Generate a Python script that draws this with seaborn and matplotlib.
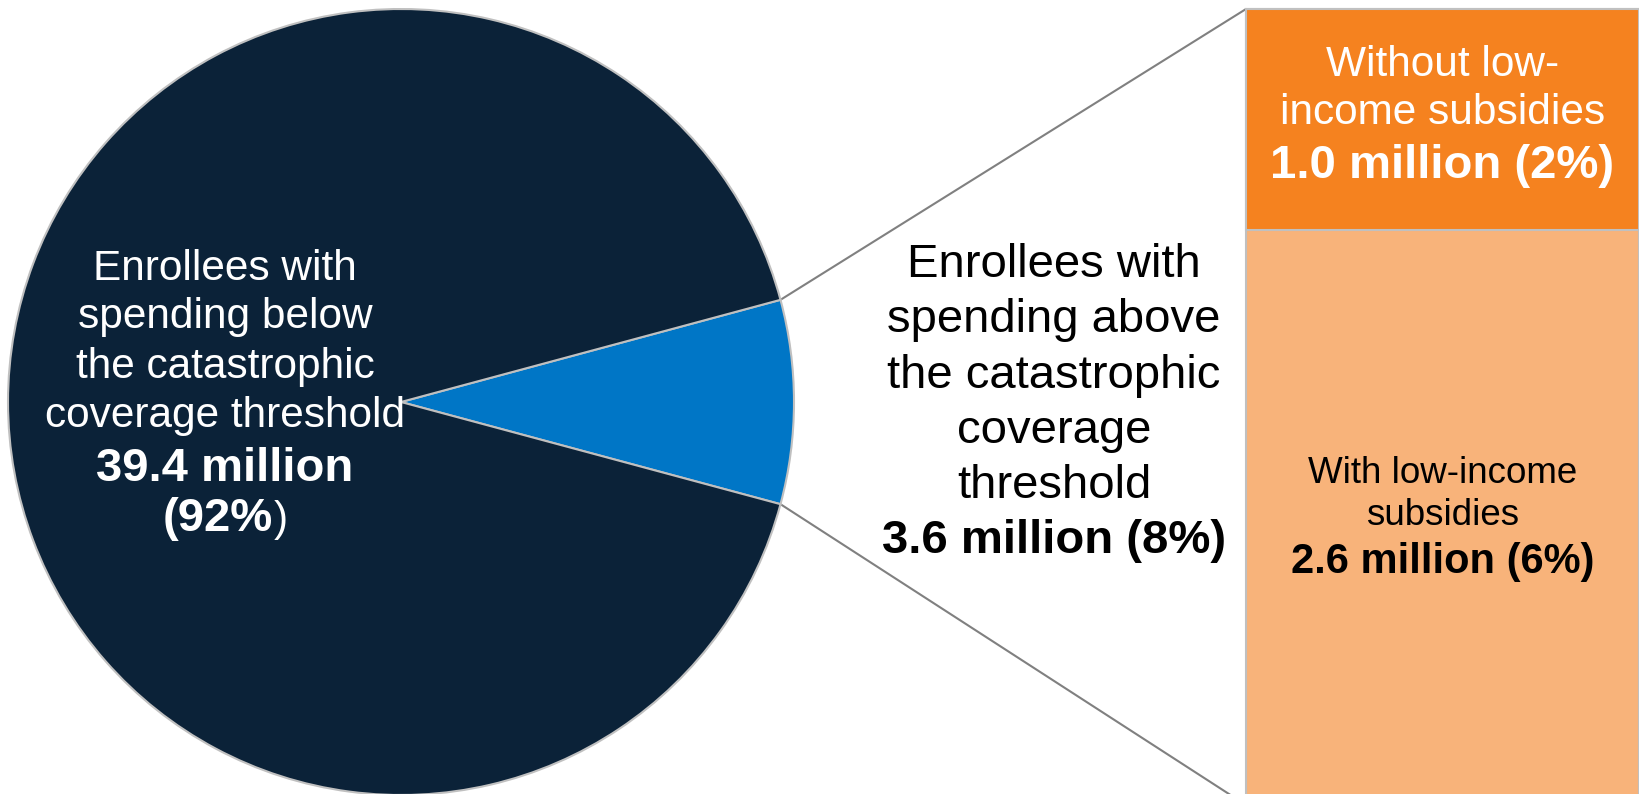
import matplotlib
matplotlib.use("Agg")
import matplotlib.pyplot as plt
import seaborn as sns
import pandas as pd
from matplotlib.patches import ConnectionPatch
import numpy as np

# ---- data ----
pie_labels = ["Above threshold", "Below threshold"]
pie_values = [3.6, 39.4]          # million enrollees
bar_labels = ["Without low-income subsidies", "With low-income subsidies"]
bar_values = [1.0, 2.6]           # million enrollees (split of the 3.6)

below_lines = ["Enrollees with", "spending below", "the catastrophic", "coverage threshold"]
below_value = "39.4 million"
below_pct = "(92%"
above_lines = ["Enrollees with", "spending above", "the catastrophic", "coverage", "threshold"]
above_value = "3.6 million (8%)"
without_lines = ["Without low-", "income subsidies"]
without_value = "1.0 million (2%)"
with_lines = ["With low-income", "subsidies"]
with_value = "2.6 million (6%)"

NAVY = "#0b2238"
BLUE = "#0076c6"
ORANGE = "#f5821f"
LIGHT = "#f8b37a"
EDGE = "#c0c0c0"
CONN = "#808080"

sns.set_theme(style="white")
plt.rcParams["font.family"] = ["Liberation Sans", "DejaVu Sans"]

W, H = 1640, 794
fig = plt.figure(figsize=(W / 100, H / 100), dpi=100)

# ---- stacked bar (seaborn) ----
bl, bt, bb, br = 1246, 9, 805, 1639
bax = fig.add_axes([bl / W, (H - bb) / H, (br - bl) / W, (bb - bt) / H])
bax.set_zorder(1)
total = sum(bar_values)
df_total = pd.DataFrame({"g": ["x"], "v": [total]})
df_top = pd.DataFrame({"g": ["x"], "v": [bar_values[0]]})
sns.barplot(data=df_total, x="g", y="v", color=LIGHT, saturation=1, width=1,
            edgecolor=EDGE, linewidth=1.5, errorbar=None, ax=bax)
sns.barplot(data=df_top, x="g", y="v", color=ORANGE, saturation=1, width=1,
            edgecolor=EDGE, linewidth=1.5, errorbar=None, ax=bax)
bax.set_xlim(-0.5, 0.5)
bax.set_ylim(total, 0)
bax.axis("off")
for p in bax.patches:
    p.set_clip_on(False)

# ---- pie on a full-figure pixel axes ----
ax = fig.add_axes([0, 0, 1, 1])
ax.set_zorder(2)
cx, cy, R = 401, 402, 393
frac = pie_values[0] / sum(pie_values)
wedges, _ = ax.pie(pie_values, colors=[BLUE, NAVY], startangle=-180 * frac,
                   center=(cx, cy), radius=R, counterclock=True,
                   wedgeprops=dict(edgecolor=EDGE, linewidth=1.5))
ax.set_xlim(0, W)
ax.set_ylim(H, 0)
ax.set_aspect("equal")
ax.axis("off")
ax.patch.set_alpha(0)

# ---- connector lines ----
w = wedges[0]
for th, yb in [(w.theta1, 1), (w.theta2, 0)]:
    px = cx + R * np.cos(np.radians(th))
    py = cy + R * np.sin(np.radians(th))
    con = ConnectionPatch(xyA=(px, py), coordsA=ax.transData,
                          xyB=(0, yb), coordsB=bax.transAxes,
                          color=CONN, linewidth=1.5)
    fig.add_artist(con)

# ---- text ----
def put(x, y, s, size, color, bold=False, ha="center"):
    ax.text(x, y, s, fontsize=size, color=color, ha=ha, va="baseline",
            fontweight="bold" if bold else "normal", zorder=5)

# pie label
for s, y in zip(below_lines, [280, 328, 378, 427]):
    put(225, y, s, 30.5, "white")
put(225, 481, below_value, 34, "white", bold=True)
put(273, 531, below_pct, 34, "white", bold=True, ha="right")
put(274, 531, ")", 30.5, "white", ha="left")

# middle label
for s, y in zip(above_lines, [277, 332, 388, 443, 498]):
    put(1054, y, s, 34, "black")
put(1054, 553, above_value, 34, "black", bold=True)

# bar labels
bx = (bl + br) / 2
for s, y in zip(without_lines, [76, 124]):
    put(bx, y, s, 30.5, "white")
put(bx, 178, without_value, 34, "white", bold=True)
for s, y in zip(with_lines, [483, 525]):
    put(bx, y, s, 26.5, "black")
put(bx, 573, with_value, 30, "black", bold=True)

fig.savefig("out.png", dpi=100)
